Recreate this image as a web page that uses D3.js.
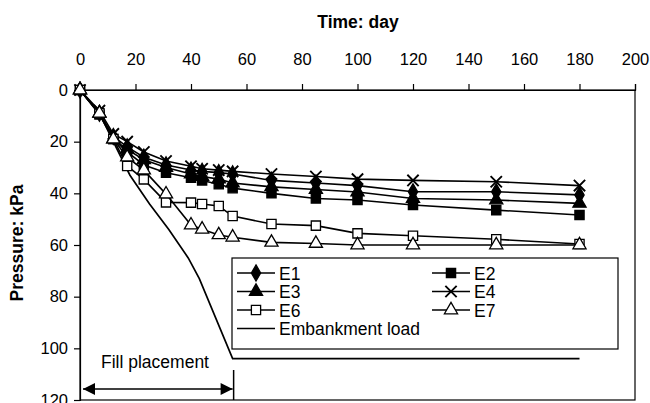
<!DOCTYPE html>
<html>
<head>
<meta charset="utf-8">
<script src="https://cdn.jsdelivr.net/npm/d3@7"></script>
<style>
  body { margin: 0; background: #fff; }
  svg { display: block; font-family: "Liberation Sans", Arial, sans-serif; }
</style>
</head>
<body>
<svg width="650" height="403"></svg>
<script>
// readings (day, kPa)
days = [0, 7, 12, 17, 23, 31, 40, 44, 50, 55, 69, 85, 100, 120, 150, 180];
E1 = [0, 9, 18, 22, 26, 29, 31, 31.5, 32, 32.5, 35, 36, 37, 39.4, 39.4, 40.6];
E2 = [0, 9.5, 19, 24, 29, 32, 34, 35, 36.5, 38, 40, 42, 42.6, 44.5, 46.5, 48.4];
E3 = [0, 9, 19, 23, 27, 30, 32.5, 33.5, 34.5, 36, 37.5, 38.5, 39.5, 42, 42.6, 43.9];
E4 = [0, 8, 17, 20, 24, 27.5, 29.5, 30.5, 31, 31.5, 32.5, 33.5, 34.5, 35, 35.5, 37];
E6 = [0, 9, 19, 29.4, 34.6, 43.5, 43.6, 44.1, 44.9, 48.8, 51.9, 52.5, 55.5, 56.4, 57.8, 59.6];
E7 = [0, 9, 19, 26, 31, 40.3, 52.3, 53.9, 56.1, 57, 59, 59.4, 60, 60, 60, 60];
loadDays = [0, 7, 12, 18, 25, 32, 39, 43, 55, 180];
loadValues = [0, 9, 20, 33, 44, 54, 65, 73, 104, 104];
xTicks = [0, 20, 40, 60, 80, 100, 120, 140, 160, 180, 200];
yTicks = [0, 20, 40, 60, 80, 100, 120];
fillDays = [0, 55];

series = [
  {name: "E1", values: E1, shape: "diamond"},
  {name: "E2", values: E2, shape: "square"},
  {name: "E3", values: E3, shape: "triangle"},
  {name: "E4", values: E4, shape: "x"},
  {name: "E6", values: E6, shape: "osquare"},
  {name: "E7", values: E7, shape: "otriangle"}
];

svg = d3.select("svg");
xs = d3.scaleLinear().domain([0, 200]).range([80, 635]);
ys = d3.scaleLinear().domain([0, 120]).range([90, 400]);

// frame
svg.append("rect")
  .attr("x", 80).attr("y", 90)
  .attr("width", 555).attr("height", 310)
  .attr("fill", "none").attr("stroke", "#000").attr("stroke-width", 1.2);

// top x axis
gx = svg.append("g")
  .attr("transform", "translate(0,90)")
  .call(d3.axisTop(xs).tickValues(xTicks).tickSize(6).tickPadding(19));
gx.selectAll("text").attr("font-size", 16.5).attr("font-family", "Liberation Sans, Arial, sans-serif");
gx.selectAll("line, path").attr("stroke", "#000").attr("stroke-width", 1.2);

// left y axis
gy = svg.append("g")
  .attr("transform", "translate(80,0)")
  .call(d3.axisLeft(ys).tickValues(yTicks).tickSize(6).tickPadding(6));
gy.selectAll("text").attr("font-size", 16.5).attr("font-family", "Liberation Sans, Arial, sans-serif");
gy.selectAll("line, path").attr("stroke", "#000").attr("stroke-width", 1.2);

svg.append("text")
  .attr("x", 358).attr("y", 28)
  .attr("text-anchor", "middle")
  .attr("font-size", 17.5).attr("font-weight", "bold")
  .text("Time: day");

svg.append("text")
  .attr("transform", "translate(23,243) rotate(-90)")
  .attr("text-anchor", "middle")
  .attr("font-size", 17.5).attr("font-weight", "bold")
  .text("Pressure: kPa");

// clip to plot area
svg.append("clipPath").attr("id", "plot")
  .append("rect").attr("x", 70).attr("y", 80).attr("width", 575).attr("height", 320);
plot = svg.append("g").attr("clip-path", "url(#plot)");

line = d3.line().x(function(d){return xs(d[0]);}).y(function(d){return ys(d[1]);});

// embankment load
plot.append("path")
  .datum(d3.zip(loadDays, loadValues))
  .attr("d", line)
  .attr("fill", "none").attr("stroke", "#000").attr("stroke-width", 1.7);

function symbolPath(shape) {
  if (shape == "diamond") return d3.symbol().type(d3.symbolDiamond).size(75)();
  if (shape == "square" || shape == "osquare") return d3.symbol().type(d3.symbolSquare).size(85)();
  if (shape == "triangle" || shape == "otriangle") return d3.symbol().type(d3.symbolTriangle).size(75)();
  return d3.symbol().type(d3.symbolTimes || d3.symbolX).size(85)();
}
function styleMarker(sel, shape) {
  var open = (shape == "osquare" || shape == "otriangle");
  sel.attr("d", symbolPath(shape))
    .attr("fill", shape == "x" ? "none" : (open ? "#fff" : "#000"))
    .attr("stroke", "#000")
    .attr("stroke-width", shape == "x" ? 1.9 : 1.3);
}

series.forEach(function(s) {
  var pts = d3.zip(days, s.values);
  plot.append("path")
    .datum(pts)
    .attr("d", line)
    .attr("fill", "none").attr("stroke", "#000").attr("stroke-width", 1.6);
  plot.append("g").selectAll("path").data(pts).enter().append("path")
    .attr("transform", function(d){return "translate(" + xs(d[0]) + "," + ys(d[1]) + ")";})
    .call(styleMarker, s.shape);
});

// legend
legend = svg.append("g");
legend.append("rect")
  .attr("x", 232).attr("y", 258).attr("width", 386).attr("height", 91)
  .attr("fill", "#fff").attr("stroke", "#000").attr("stroke-width", 1.2);
legendItems = [
  {name: "E1", shape: "diamond", col: 0, row: 0},
  {name: "E2", shape: "square", col: 1, row: 0},
  {name: "E3", shape: "triangle", col: 0, row: 1},
  {name: "E4", shape: "x", col: 1, row: 1},
  {name: "E6", shape: "osquare", col: 0, row: 2},
  {name: "E7", shape: "otriangle", col: 1, row: 2},
  {name: "Embankment load", shape: null, col: 0, row: 3}
];
li = legend.selectAll("g.item").data(legendItems).enter().append("g")
  .attr("transform", function(d){return "translate(" + (d.col ? 432 : 237) + "," + (273 + d.row * 18.5) + ")";});
li.append("line").attr("x1", 0).attr("x2", 38).attr("y1", 0).attr("y2", 0)
  .attr("stroke", "#000").attr("stroke-width", 1.6);
li.filter(function(d){return d.shape;}).append("path")
  .attr("transform", "translate(19,0)")
  .each(function(d){ d3.select(this).call(styleMarker, d.shape); });
li.append("text").attr("x", 42).attr("y", 6.5)
  .attr("font-size", 17.5)
  .text(function(d){return d.name;});

// fill placement arrow
svg.append("line")
  .attr("x1", xs(fillDays[1]) + 1).attr("x2", xs(fillDays[1]) + 1)
  .attr("y1", 370).attr("y2", 400)
  .attr("stroke", "#000").attr("stroke-width", 1.5);
svg.append("defs").html(
  '<marker id="ah" viewBox="0 0 10 10" refX="10" refY="5" markerWidth="10" markerHeight="8" orient="auto-start-reverse">' +
  '<path d="M0,0 L10,5 L0,10 z" fill="#000"/></marker>');
svg.append("line")
  .attr("x1", xs(fillDays[0]) + 3).attr("x2", xs(fillDays[1]))
  .attr("y1", 389).attr("y2", 389)
  .attr("stroke", "#000").attr("stroke-width", 1.5)
  .attr("marker-start", "url(#ah)").attr("marker-end", "url(#ah)");
svg.append("text")
  .attr("x", 155).attr("y", 368)
  .attr("text-anchor", "middle")
  .attr("font-size", 17.5)
  .text("Fill placement");
</script>
</body>
</html>
